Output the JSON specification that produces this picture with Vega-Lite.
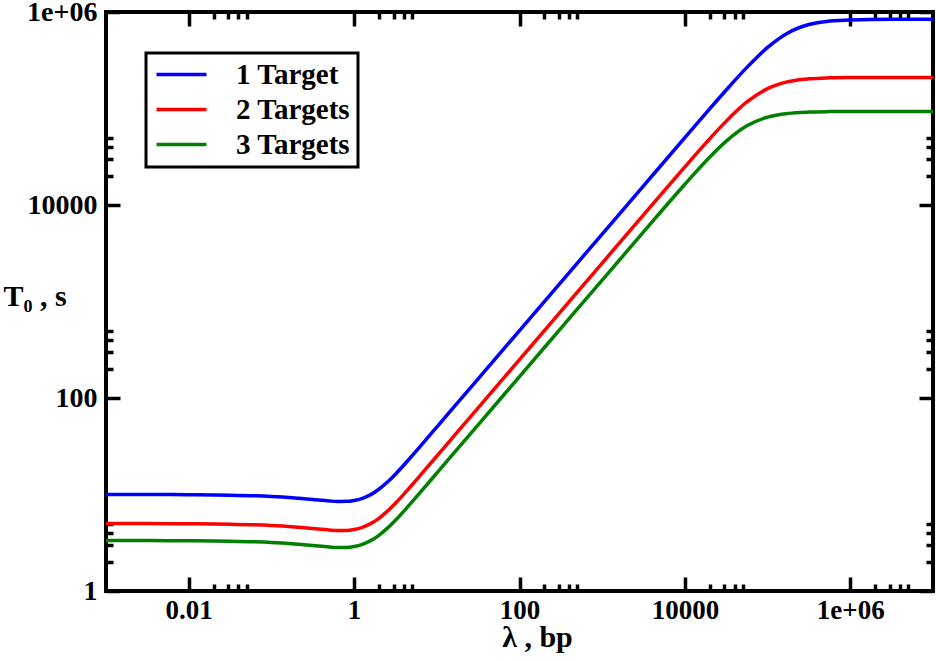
{
  "$schema": "https://vega.github.io/schema/vega-lite/v6.json",
  "width": 827,
  "height": 579,
  "autosize": "none",
  "padding": {"left": 106, "top": 12, "right": 3, "bottom": 70},
  "background": "white",
  "config": {
    "view": {"stroke": "black", "strokeWidth": 4},
    "font": "Liberation Serif",
    "axis": {"labelFont": "Liberation Serif", "labelFontSize": 28, "labelFontWeight": "bold", "labelColor": "black", "titleFont": "Liberation Serif", "titleFontSize": 30, "titleFontWeight": "bold", "titleColor": "black"},
    "legend": {"strokeWidth": 3}
  },
  "data": {
    "values": [
      {"lambda": 0.001, "T0": 9.995, "series": "1 Target"},
      {"lambda": 0.003162, "T0": 9.984, "series": "1 Target"},
      {"lambda": 0.01, "T0": 9.95, "series": "1 Target"},
      {"lambda": 0.03162, "T0": 9.847, "series": "1 Target"},
      {"lambda": 0.1, "T0": 9.548, "series": "1 Target"},
      {"lambda": 0.1778, "T0": 9.26, "series": "1 Target"},
      {"lambda": 0.3162, "T0": 8.87, "series": "1 Target"},
      {"lambda": 0.5012, "T0": 8.564, "series": "1 Target"},
      {"lambda": 0.631, "T0": 8.476, "series": "1 Target"},
      {"lambda": 0.7943, "T0": 8.49, "series": "1 Target"},
      {"lambda": 1, "T0": 8.679, "series": "1 Target"},
      {"lambda": 1.259, "T0": 9.134, "series": "1 Target"},
      {"lambda": 1.585, "T0": 9.974, "series": "1 Target"},
      {"lambda": 1.995, "T0": 11.336, "series": "1 Target"},
      {"lambda": 2.512, "T0": 13.371, "series": "1 Target"},
      {"lambda": 3.162, "T0": 16.235, "series": "1 Target"},
      {"lambda": 3.981, "T0": 20.092, "series": "1 Target"},
      {"lambda": 5.012, "T0": 25.126, "series": "1 Target"},
      {"lambda": 6.31, "T0": 31.566, "series": "1 Target"},
      {"lambda": 7.943, "T0": 39.72, "series": "1 Target"},
      {"lambda": 10, "T0": 50, "series": "1 Target"},
      {"lambda": 17.78, "T0": 88.91, "series": "1 Target"},
      {"lambda": 31.62, "T0": 158.1, "series": "1 Target"},
      {"lambda": 100, "T0": 500, "series": "1 Target"},
      {"lambda": 316.2, "T0": 1581, "series": "1 Target"},
      {"lambda": 1000, "T0": 5000, "series": "1 Target"},
      {"lambda": 3162, "T0": 15808, "series": "1 Target"},
      {"lambda": 10000, "T0": 49912, "series": "1 Target"},
      {"lambda": 17783, "T0": 88420, "series": "1 Target"},
      {"lambda": 31623, "T0": 155385, "series": "1 Target"},
      {"lambda": 56234, "T0": 266631, "series": "1 Target"},
      {"lambda": 100000, "T0": 429647, "series": "1 Target"},
      {"lambda": 177828, "T0": 610603, "series": "1 Target"},
      {"lambda": 316228, "T0": 741814, "series": "1 Target"},
      {"lambda": 562341, "T0": 804852, "series": "1 Target"},
      {"lambda": 1000000, "T0": 828391, "series": "1 Target"},
      {"lambda": 3162278, "T0": 838817, "series": "1 Target"},
      {"lambda": 10000000, "T0": 839881, "series": "1 Target"},
      {"lambda": 0.001, "T0": 4.998, "series": "2 Targets"},
      {"lambda": 0.003162, "T0": 4.992, "series": "2 Targets"},
      {"lambda": 0.01, "T0": 4.975, "series": "2 Targets"},
      {"lambda": 0.03162, "T0": 4.924, "series": "2 Targets"},
      {"lambda": 0.1, "T0": 4.774, "series": "2 Targets"},
      {"lambda": 0.1778, "T0": 4.63, "series": "2 Targets"},
      {"lambda": 0.3162, "T0": 4.435, "series": "2 Targets"},
      {"lambda": 0.5012, "T0": 4.282, "series": "2 Targets"},
      {"lambda": 0.631, "T0": 4.238, "series": "2 Targets"},
      {"lambda": 0.7943, "T0": 4.245, "series": "2 Targets"},
      {"lambda": 1, "T0": 4.34, "series": "2 Targets"},
      {"lambda": 1.259, "T0": 4.567, "series": "2 Targets"},
      {"lambda": 1.585, "T0": 4.987, "series": "2 Targets"},
      {"lambda": 1.995, "T0": 5.668, "series": "2 Targets"},
      {"lambda": 2.512, "T0": 6.686, "series": "2 Targets"},
      {"lambda": 3.162, "T0": 8.118, "series": "2 Targets"},
      {"lambda": 3.981, "T0": 10.046, "series": "2 Targets"},
      {"lambda": 5.012, "T0": 12.563, "series": "2 Targets"},
      {"lambda": 6.31, "T0": 15.783, "series": "2 Targets"},
      {"lambda": 7.943, "T0": 19.86, "series": "2 Targets"},
      {"lambda": 10, "T0": 25, "series": "2 Targets"},
      {"lambda": 17.78, "T0": 44.46, "series": "2 Targets"},
      {"lambda": 31.62, "T0": 79.06, "series": "2 Targets"},
      {"lambda": 100, "T0": 250, "series": "2 Targets"},
      {"lambda": 316.2, "T0": 790.5, "series": "2 Targets"},
      {"lambda": 1000, "T0": 2500, "series": "2 Targets"},
      {"lambda": 3162, "T0": 7900, "series": "2 Targets"},
      {"lambda": 10000, "T0": 24825, "series": "2 Targets"},
      {"lambda": 17783, "T0": 43493, "series": "2 Targets"},
      {"lambda": 31623, "T0": 73988, "series": "2 Targets"},
      {"lambda": 56234, "T0": 116824, "series": "2 Targets"},
      {"lambda": 100000, "T0": 160798, "series": "2 Targets"},
      {"lambda": 177828, "T0": 189881, "series": "2 Targets"},
      {"lambda": 316228, "T0": 202961, "series": "2 Targets"},
      {"lambda": 562341, "T0": 207696, "series": "2 Targets"},
      {"lambda": 1000000, "T0": 209263, "series": "2 Targets"},
      {"lambda": 3162278, "T0": 209926, "series": "2 Targets"},
      {"lambda": 10000000, "T0": 209993, "series": "2 Targets"},
      {"lambda": 0.001, "T0": 3.332, "series": "3 Targets"},
      {"lambda": 0.003162, "T0": 3.328, "series": "3 Targets"},
      {"lambda": 0.01, "T0": 3.317, "series": "3 Targets"},
      {"lambda": 0.03162, "T0": 3.282, "series": "3 Targets"},
      {"lambda": 0.1, "T0": 3.183, "series": "3 Targets"},
      {"lambda": 0.1778, "T0": 3.087, "series": "3 Targets"},
      {"lambda": 0.3162, "T0": 2.957, "series": "3 Targets"},
      {"lambda": 0.5012, "T0": 2.855, "series": "3 Targets"},
      {"lambda": 0.631, "T0": 2.825, "series": "3 Targets"},
      {"lambda": 0.7943, "T0": 2.83, "series": "3 Targets"},
      {"lambda": 1, "T0": 2.893, "series": "3 Targets"},
      {"lambda": 1.259, "T0": 3.045, "series": "3 Targets"},
      {"lambda": 1.585, "T0": 3.325, "series": "3 Targets"},
      {"lambda": 1.995, "T0": 3.779, "series": "3 Targets"},
      {"lambda": 2.512, "T0": 4.457, "series": "3 Targets"},
      {"lambda": 3.162, "T0": 5.412, "series": "3 Targets"},
      {"lambda": 3.981, "T0": 6.697, "series": "3 Targets"},
      {"lambda": 5.012, "T0": 8.375, "series": "3 Targets"},
      {"lambda": 6.31, "T0": 10.522, "series": "3 Targets"},
      {"lambda": 7.943, "T0": 13.24, "series": "3 Targets"},
      {"lambda": 10, "T0": 16.667, "series": "3 Targets"},
      {"lambda": 17.78, "T0": 29.64, "series": "3 Targets"},
      {"lambda": 31.62, "T0": 52.7, "series": "3 Targets"},
      {"lambda": 100, "T0": 166.7, "series": "3 Targets"},
      {"lambda": 316.2, "T0": 527, "series": "3 Targets"},
      {"lambda": 1000, "T0": 1666.4, "series": "3 Targets"},
      {"lambda": 3162, "T0": 5262, "series": "3 Targets"},
      {"lambda": 10000, "T0": 16407, "series": "3 Targets"},
      {"lambda": 17783, "T0": 28248, "series": "3 Targets"},
      {"lambda": 31623, "T0": 45893, "series": "3 Targets"},
      {"lambda": 56234, "T0": 66134, "series": "3 Targets"},
      {"lambda": 100000, "T0": 81434, "series": "3 Targets"},
      {"lambda": 177828, "T0": 89024, "series": "3 Targets"},
      {"lambda": 316228, "T0": 91903, "series": "3 Targets"},
      {"lambda": 562341, "T0": 92874, "series": "3 Targets"},
      {"lambda": 1000000, "T0": 93187, "series": "3 Targets"},
      {"lambda": 3162278, "T0": 93319, "series": "3 Targets"},
      {"lambda": 10000000, "T0": 93332, "series": "3 Targets"}
    ]
  },
  "layer": [
    {
      "mark": {"type": "line", "strokeWidth": 3.5, "interpolate": "monotone", "clip": true},
      "encoding": {
        "x": {
          "field": "lambda", "type": "quantitative",
          "scale": {"type": "log", "domain": [0.001, 10000000], "nice": false},
          "axis": {
            "orient": "bottom",
            "values": [0.01, 0.02, 0.03, 0.04, 0.05, 1, 2, 3, 4, 5, 100, 200, 300, 400, 500, 10000, 20000, 30000, 40000, 50000, 1000000, 2000000, 3000000, 4000000, 5000000],
            "labelExpr": "datum.value == 0.01 ? '0.01' : datum.value == 1 ? '1' : datum.value == 100 ? '100' : datum.value == 10000 ? '10000' : datum.value == 1000000 ? '1e+06' : ''",
            "labelOverlap": false,
            "labelFlush": false,
            "labelBound": false,
            "labelFont": "Liberation Serif",
            "labelFontWeight": "bold",
            "labelFontSize": 27,
            "labelColor": "black",
            "labelBaseline": "top",
            "labelPadding": 20,
            "domain": false,
            "grid": false,
            "tickColor": "black",
            "tickWidth": 3.5,
            "tickSize": {"condition": {"test": "datum.value == 0.01 || datum.value == 1 || datum.value == 100 || datum.value == 10000 || datum.value == 1000000", "value": -14}, "value": -7},
            "title": "λ , bp",
            "titleFont": "Liberation Serif",
            "titleFontWeight": "bold",
            "titleFontSize": 30,
            "titleColor": "black",
            "titleBaseline": "alphabetic",
            "titleAlign": "center",
            "titleX": 431,
            "titleY": 55
          }
        },
        "y": {
          "field": "T0", "type": "quantitative",
          "scale": {"type": "log", "domain": [1, 1000000], "nice": false},
          "axis": {
            "orient": "left",
            "values": [1, 2, 3, 4, 5, 100, 200, 300, 400, 500, 10000, 20000, 30000, 40000, 50000, 1000000],
            "labelExpr": "datum.value == 1 ? '1' : datum.value == 100 ? '100' : datum.value == 10000 ? '10000' : datum.value == 1000000 ? '1e+06' : ''",
            "labelOverlap": false,
            "labelFlush": false,
            "labelBound": false,
            "labelFont": "Liberation Serif",
            "labelFontWeight": "bold",
            "labelFontSize": 28,
            "labelColor": "black",
            "labelPadding": 23,
            "domain": false,
            "grid": false,
            "tickColor": "black",
            "tickWidth": 3.5,
            "tickSize": {"condition": {"test": "datum.value == 1 || datum.value == 100 || datum.value == 10000 || datum.value == 1000000", "value": -14}, "value": -7},
            "title": "T₀ , s",
            "titleFont": "Liberation Serif",
            "titleFontWeight": "bold",
            "titleFontSize": 30,
            "titleColor": "black",
            "titleAngle": 0,
            "titleAlign": "left",
            "titleBaseline": "alphabetic",
            "titleX": -103,
            "titleY": 293
          }
        },
        "color": {
          "field": "series", "type": "nominal",
          "scale": {"domain": ["1 Target", "2 Targets", "3 Targets"], "range": ["#0000ff", "#ff0000", "#008000"]},
          "legend": {
            "title": null,
            "orient": "none",
            "legendX": 40,
            "legendY": 41,
            "strokeColor": "black",
            "fillColor": "white",
            "padding": 7,
            "symbolType": "M-2.5,0H2.5",
            "symbolSize": 400,
            "symbolStrokeWidth": 3.5,
            "symbolOffset": 14,
            "labelOffset": 40,
            "labelFont": "Liberation Serif",
            "labelFontWeight": "bold",
            "labelFontSize": 29,
            "labelColor": "black",
            "labelLimit": 0,
            "rowPadding": 5
          }
        }
      }
    },
    {
      "mark": {"type": "point", "opacity": 0},
      "encoding": {
        "x": {
          "field": "lambda", "type": "quantitative",
          "scale": {"type": "log", "domain": [0.001, 10000000], "nice": false},
          "axis": {
            "orient": "top",
            "values": [0.01, 0.02, 0.03, 0.04, 0.05, 1, 2, 3, 4, 5, 100, 200, 300, 400, 500, 10000, 20000, 30000, 40000, 50000, 1000000, 2000000, 3000000, 4000000, 5000000],
            "labels": false,
            "domain": false,
            "grid": false,
            "title": null,
            "tickColor": "black",
            "tickWidth": 3.5,
            "tickSize": {"condition": {"test": "datum.value == 0.01 || datum.value == 1 || datum.value == 100 || datum.value == 10000 || datum.value == 1000000", "value": -14}, "value": -7}
          }
        },
        "y": {
          "field": "T0", "type": "quantitative",
          "scale": {"type": "log", "domain": [1, 1000000], "nice": false},
          "axis": {
            "orient": "right",
            "values": [1, 2, 3, 4, 5, 100, 200, 300, 400, 500, 10000, 20000, 30000, 40000, 50000, 1000000],
            "labels": false,
            "domain": false,
            "grid": false,
            "title": null,
            "tickColor": "black",
            "tickWidth": 3.5,
            "tickSize": {"condition": {"test": "datum.value == 1 || datum.value == 100 || datum.value == 10000 || datum.value == 1000000", "value": -14}, "value": -7}
          }
        }
      }
    }
  ],
  "resolve": {"axis": {"x": "independent", "y": "independent"}}
}
